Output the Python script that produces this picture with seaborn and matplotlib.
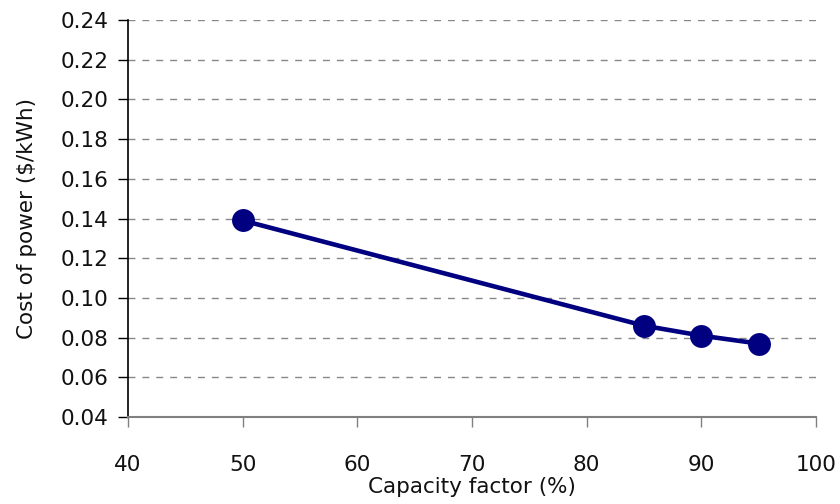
"""
Cost of power vs capacity factor.
"""
import matplotlib
matplotlib.use("Agg")
import matplotlib.pyplot as plt
import numpy as np
import pandas as pd
import seaborn as sns

capacity_factor = [50, 85, 90, 95]
cost_of_power = [0.139, 0.086, 0.081, 0.077]

x_ticks = [40, 50, 60, 70, 80, 90, 100]
y_ticks = [0.04, 0.06, 0.08, 0.10, 0.12, 0.14, 0.16, 0.18, 0.20, 0.22, 0.24]

sns.set_style("white")
plt.rcParams["font.family"] = ["DejaVu Sans"]

df = pd.DataFrame({"cf": capacity_factor, "cost": cost_of_power})

fig = plt.figure(figsize=(8.4, 5.04), dpi=100)
ax = fig.add_axes([0.1524, 0.1726, 0.8190, 0.7877])

sns.lineplot(
    data=df, x="cf", y="cost", ax=ax,
    color="#000080", lw=3.3, marker="o", markersize=16.5,
    markeredgewidth=0, zorder=3,
)

ax.set_xlim(40, 100)
ax.set_ylim(0.04, 0.24)
ax.set_xticks(x_ticks)
ax.set_yticks(y_ticks)
ax.set_xticklabels([str(t) for t in x_ticks])
ax.set_yticklabels([f"{t:.2f}" for t in y_ticks])
ax.yaxis.grid(True, color="#888888", ls=(0, (5, 5)), lw=1)
ax.xaxis.grid(False)

for side in ["top", "right"]:
    ax.spines[side].set_visible(False)
ax.spines["left"].set_color("black")
ax.spines["bottom"].set_color("#808080")
ax.spines["left"].set_linewidth(1.2)
ax.spines["bottom"].set_linewidth(1.5)

ax.tick_params(axis="both", direction="out", length=7, width=1,
               labelsize=15.5, labelcolor="#111111",
               bottom=True, left=True)
ax.tick_params(axis="x", pad=20, color="#808080")
ax.tick_params(axis="y", pad=7, color="black")

ax.set_xlabel("Capacity factor (%)", fontsize=15.5, labelpad=2, color="#111111")
ax.set_ylabel("Cost of power ($/kWh)", fontsize=15.5, labelpad=17, color="#111111")

fig.savefig("out.png", dpi=100)
